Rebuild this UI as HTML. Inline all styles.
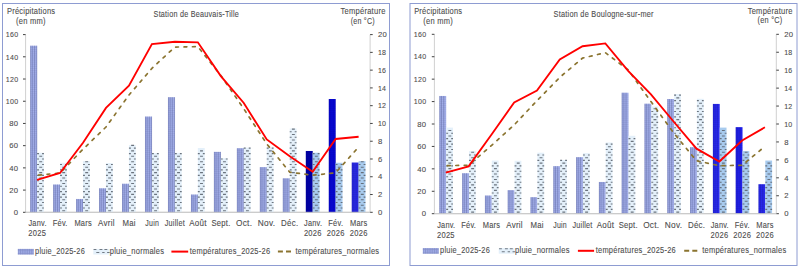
<!DOCTYPE html>
<html><head><meta charset="utf-8"><style>
html,body{margin:0;padding:0;background:#fff;width:800px;height:268px;overflow:hidden}
svg{display:block}
text{font-family:"Liberation Sans", sans-serif;letter-spacing:0.27px;stroke:#4d4d4d;stroke-width:0.1px;paint-order:stroke}
</style></head><body>
<svg width="800" height="268" viewBox="0 0 800 268">
<rect width="800" height="268" fill="#fff"/>
<rect x="2.5" y="3.5" width="387.0" height="262" fill="#fff" stroke="#8e9cd2" stroke-width="1"/>
<path d="M25.60 34.60V212.30M370.10 34.60V212.30M25.60 212.30H370.10" stroke="#d0d0d0" stroke-width="1" fill="none"/>
<path d="M23.00 212.30H25.60M23.00 190.09H25.60M23.00 167.88H25.60M23.00 145.66H25.60M23.00 123.45H25.60M23.00 101.24H25.60M23.00 79.02H25.60M23.00 56.81H25.60M23.00 34.60H25.60M370.10 212.30H372.70M370.10 194.53H372.70M370.10 176.76H372.70M370.10 158.99H372.70M370.10 141.22H372.70M370.10 123.45H372.70M370.10 105.68H372.70M370.10 87.91H372.70M370.10 70.14H372.70M370.10 52.37H372.70M370.10 34.60H372.70" stroke="#404040" stroke-width="1" fill="none"/>
<text transform="translate(18.30,215.00) scale(0.96,1)" text-anchor="end" font-size="8.0" fill="#4d4d4d">0</text>
<text transform="translate(18.30,192.79) scale(0.96,1)" text-anchor="end" font-size="8.0" fill="#4d4d4d">20</text>
<text transform="translate(18.30,170.57) scale(0.96,1)" text-anchor="end" font-size="8.0" fill="#4d4d4d">40</text>
<text transform="translate(18.30,148.36) scale(0.96,1)" text-anchor="end" font-size="8.0" fill="#4d4d4d">60</text>
<text transform="translate(18.30,126.15) scale(0.96,1)" text-anchor="end" font-size="8.0" fill="#4d4d4d">80</text>
<text transform="translate(18.30,103.94) scale(0.88,1)" text-anchor="end" font-size="8.0" fill="#4d4d4d">100</text>
<text transform="translate(18.30,81.72) scale(0.88,1)" text-anchor="end" font-size="8.0" fill="#4d4d4d">120</text>
<text transform="translate(18.30,59.51) scale(0.88,1)" text-anchor="end" font-size="8.0" fill="#4d4d4d">140</text>
<text transform="translate(18.30,37.30) scale(0.88,1)" text-anchor="end" font-size="8.0" fill="#4d4d4d">160</text>
<text transform="translate(377.90,215.00) scale(0.96,1)" text-anchor="start" font-size="8.0" fill="#4d4d4d">0</text>
<text transform="translate(377.90,197.23) scale(0.96,1)" text-anchor="start" font-size="8.0" fill="#4d4d4d">2</text>
<text transform="translate(377.90,179.46) scale(0.96,1)" text-anchor="start" font-size="8.0" fill="#4d4d4d">4</text>
<text transform="translate(377.90,161.69) scale(0.96,1)" text-anchor="start" font-size="8.0" fill="#4d4d4d">6</text>
<text transform="translate(377.90,143.92) scale(0.96,1)" text-anchor="start" font-size="8.0" fill="#4d4d4d">8</text>
<text transform="translate(377.90,126.15) scale(0.88,1)" text-anchor="start" font-size="8.0" fill="#4d4d4d">10</text>
<text transform="translate(377.90,108.38) scale(0.88,1)" text-anchor="start" font-size="8.0" fill="#4d4d4d">12</text>
<text transform="translate(377.90,90.61) scale(0.88,1)" text-anchor="start" font-size="8.0" fill="#4d4d4d">14</text>
<text transform="translate(377.90,72.84) scale(0.88,1)" text-anchor="start" font-size="8.0" fill="#4d4d4d">16</text>
<text transform="translate(377.90,55.07) scale(0.88,1)" text-anchor="start" font-size="8.0" fill="#4d4d4d">18</text>
<text transform="translate(377.90,37.30) scale(0.96,1)" text-anchor="start" font-size="8.0" fill="#4d4d4d">20</text>
<rect x="30.24" y="45.71" width="6.84" height="166.59" fill="#a2aee8"/>
<path d="M30.64 45.71V212.30M32.34 45.71V212.30M34.54 45.71V212.30M36.74 45.71V212.30" stroke="#59629c" stroke-width="0.9" opacity="0.47"/>
<path d="M30.24 211.30h6.84M30.24 209.20h6.84M30.24 207.10h6.84M30.24 205.00h6.84M30.24 202.90h6.84M30.24 200.80h6.84M30.24 198.70h6.84M30.24 196.60h6.84M30.24 194.50h6.84M30.24 192.40h6.84M30.24 190.30h6.84M30.24 188.20h6.84M30.24 186.10h6.84M30.24 184.00h6.84M30.24 181.90h6.84M30.24 179.80h6.84M30.24 177.70h6.84M30.24 175.60h6.84M30.24 173.50h6.84M30.24 171.40h6.84M30.24 169.30h6.84M30.24 167.20h6.84M30.24 165.10h6.84M30.24 163.00h6.84M30.24 160.90h6.84M30.24 158.80h6.84M30.24 156.70h6.84M30.24 154.60h6.84M30.24 152.50h6.84M30.24 150.40h6.84M30.24 148.30h6.84M30.24 146.20h6.84M30.24 144.10h6.84M30.24 142.00h6.84M30.24 139.90h6.84M30.24 137.80h6.84M30.24 135.70h6.84M30.24 133.60h6.84M30.24 131.50h6.84M30.24 129.40h6.84M30.24 127.30h6.84M30.24 125.20h6.84M30.24 123.10h6.84M30.24 121.00h6.84M30.24 118.90h6.84M30.24 116.80h6.84M30.24 114.70h6.84M30.24 112.60h6.84M30.24 110.50h6.84M30.24 108.40h6.84M30.24 106.30h6.84M30.24 104.20h6.84M30.24 102.10h6.84M30.24 100.00h6.84M30.24 97.90h6.84M30.24 95.80h6.84M30.24 93.70h6.84M30.24 91.60h6.84M30.24 89.50h6.84M30.24 87.40h6.84M30.24 85.30h6.84M30.24 83.20h6.84M30.24 81.10h6.84M30.24 79.00h6.84M30.24 76.90h6.84M30.24 74.80h6.84M30.24 72.70h6.84M30.24 70.60h6.84M30.24 68.50h6.84M30.24 66.40h6.84M30.24 64.30h6.84M30.24 62.20h6.84M30.24 60.10h6.84M30.24 58.00h6.84M30.24 55.90h6.84M30.24 53.80h6.84M30.24 51.70h6.84M30.24 49.60h6.84M30.24 47.50h6.84" stroke="#59629c" stroke-width="0.6" opacity="0.19"/>
<rect x="37.08" y="152.77" width="6.84" height="59.53" fill="#e4f0fa"/>
<path d="M39.28 210.70h2.9M37.08 207.98h1.9M42.08 207.98h1.84M39.28 205.26h2.9M37.08 202.54h1.9M42.08 202.54h1.84M39.28 199.82h2.9M37.08 197.10h1.9M42.08 197.10h1.84M39.28 194.38h2.9M37.08 191.66h1.9M42.08 191.66h1.84M39.28 188.94h2.9M37.08 186.22h1.9M42.08 186.22h1.84M39.28 183.50h2.9M37.08 180.78h1.9M42.08 180.78h1.84M39.28 178.06h2.9M37.08 175.34h1.9M42.08 175.34h1.84M39.28 172.62h2.9M37.08 169.90h1.9M42.08 169.90h1.84M39.28 167.18h2.9M37.08 164.46h1.9M42.08 164.46h1.84M39.28 161.74h2.9M37.08 159.02h1.9M42.08 159.02h1.84M39.28 156.30h2.9M37.08 153.58h1.9M42.08 153.58h1.84" stroke="#5e6670" stroke-width="1.1" opacity="0.9"/>
<rect x="53.21" y="184.53" width="6.84" height="27.77" fill="#a2aee8"/>
<path d="M53.61 184.53V212.30M55.31 184.53V212.30M57.51 184.53V212.30M59.71 184.53V212.30" stroke="#59629c" stroke-width="0.9" opacity="0.47"/>
<path d="M53.21 211.30h6.84M53.21 209.20h6.84M53.21 207.10h6.84M53.21 205.00h6.84M53.21 202.90h6.84M53.21 200.80h6.84M53.21 198.70h6.84M53.21 196.60h6.84M53.21 194.50h6.84M53.21 192.40h6.84M53.21 190.30h6.84M53.21 188.20h6.84M53.21 186.10h6.84" stroke="#59629c" stroke-width="0.6" opacity="0.19"/>
<rect x="60.05" y="162.77" width="6.84" height="49.53" fill="#e4f0fa"/>
<path d="M62.25 210.70h2.9M60.05 207.98h1.9M65.05 207.98h1.84M62.25 205.26h2.9M60.05 202.54h1.9M65.05 202.54h1.84M62.25 199.82h2.9M60.05 197.10h1.9M65.05 197.10h1.84M62.25 194.38h2.9M60.05 191.66h1.9M65.05 191.66h1.84M62.25 188.94h2.9M60.05 186.22h1.9M65.05 186.22h1.84M62.25 183.50h2.9M60.05 180.78h1.9M65.05 180.78h1.84M62.25 178.06h2.9M60.05 175.34h1.9M65.05 175.34h1.84M62.25 172.62h2.9M60.05 169.90h1.9M65.05 169.90h1.84M62.25 167.18h2.9M60.05 164.46h1.9M65.05 164.46h1.84" stroke="#5e6670" stroke-width="1.1" opacity="0.9"/>
<rect x="76.17" y="198.97" width="6.84" height="13.33" fill="#a2aee8"/>
<path d="M76.57 198.97V212.30M78.27 198.97V212.30M80.47 198.97V212.30M82.67 198.97V212.30" stroke="#59629c" stroke-width="0.9" opacity="0.47"/>
<path d="M76.17 211.30h6.84M76.17 209.20h6.84M76.17 207.10h6.84M76.17 205.00h6.84M76.17 202.90h6.84M76.17 200.80h6.84" stroke="#59629c" stroke-width="0.6" opacity="0.19"/>
<rect x="83.02" y="161.10" width="6.84" height="51.20" fill="#e4f0fa"/>
<path d="M85.22 210.70h2.9M83.02 207.98h1.9M88.02 207.98h1.84M85.22 205.26h2.9M83.02 202.54h1.9M88.02 202.54h1.84M85.22 199.82h2.9M83.02 197.10h1.9M88.02 197.10h1.84M85.22 194.38h2.9M83.02 191.66h1.9M88.02 191.66h1.84M85.22 188.94h2.9M83.02 186.22h1.9M88.02 186.22h1.84M85.22 183.50h2.9M83.02 180.78h1.9M88.02 180.78h1.84M85.22 178.06h2.9M83.02 175.34h1.9M88.02 175.34h1.84M85.22 172.62h2.9M83.02 169.90h1.9M88.02 169.90h1.84M85.22 167.18h2.9M83.02 164.46h1.9M88.02 164.46h1.84M85.22 161.74h2.9" stroke="#5e6670" stroke-width="1.1" opacity="0.9"/>
<rect x="99.14" y="188.31" width="6.84" height="23.99" fill="#a2aee8"/>
<path d="M99.54 188.31V212.30M101.24 188.31V212.30M103.44 188.31V212.30M105.64 188.31V212.30" stroke="#59629c" stroke-width="0.9" opacity="0.47"/>
<path d="M99.14 211.30h6.84M99.14 209.20h6.84M99.14 207.10h6.84M99.14 205.00h6.84M99.14 202.90h6.84M99.14 200.80h6.84M99.14 198.70h6.84M99.14 196.60h6.84M99.14 194.50h6.84M99.14 192.40h6.84M99.14 190.30h6.84" stroke="#59629c" stroke-width="0.6" opacity="0.19"/>
<rect x="105.98" y="163.10" width="6.84" height="49.20" fill="#e4f0fa"/>
<path d="M108.18 210.70h2.9M105.98 207.98h1.9M110.98 207.98h1.84M108.18 205.26h2.9M105.98 202.54h1.9M110.98 202.54h1.84M108.18 199.82h2.9M105.98 197.10h1.9M110.98 197.10h1.84M108.18 194.38h2.9M105.98 191.66h1.9M110.98 191.66h1.84M108.18 188.94h2.9M105.98 186.22h1.9M110.98 186.22h1.84M108.18 183.50h2.9M105.98 180.78h1.9M110.98 180.78h1.84M108.18 178.06h2.9M105.98 175.34h1.9M110.98 175.34h1.84M108.18 172.62h2.9M105.98 169.90h1.9M110.98 169.90h1.84M108.18 167.18h2.9M105.98 164.46h1.9M110.98 164.46h1.84" stroke="#5e6670" stroke-width="1.1" opacity="0.9"/>
<rect x="122.11" y="183.76" width="6.84" height="28.54" fill="#a2aee8"/>
<path d="M122.51 183.76V212.30M124.21 183.76V212.30M126.41 183.76V212.30M128.61 183.76V212.30" stroke="#59629c" stroke-width="0.9" opacity="0.47"/>
<path d="M122.11 211.30h6.84M122.11 209.20h6.84M122.11 207.10h6.84M122.11 205.00h6.84M122.11 202.90h6.84M122.11 200.80h6.84M122.11 198.70h6.84M122.11 196.60h6.84M122.11 194.50h6.84M122.11 192.40h6.84M122.11 190.30h6.84M122.11 188.20h6.84M122.11 186.10h6.84" stroke="#59629c" stroke-width="0.6" opacity="0.19"/>
<rect x="128.95" y="145.11" width="6.84" height="67.19" fill="#e4f0fa"/>
<path d="M131.15 210.70h2.9M128.95 207.98h1.9M133.95 207.98h1.84M131.15 205.26h2.9M128.95 202.54h1.9M133.95 202.54h1.84M131.15 199.82h2.9M128.95 197.10h1.9M133.95 197.10h1.84M131.15 194.38h2.9M128.95 191.66h1.9M133.95 191.66h1.84M131.15 188.94h2.9M128.95 186.22h1.9M133.95 186.22h1.84M131.15 183.50h2.9M128.95 180.78h1.9M133.95 180.78h1.84M131.15 178.06h2.9M128.95 175.34h1.9M133.95 175.34h1.84M131.15 172.62h2.9M128.95 169.90h1.9M133.95 169.90h1.84M131.15 167.18h2.9M128.95 164.46h1.9M133.95 164.46h1.84M131.15 161.74h2.9M128.95 159.02h1.9M133.95 159.02h1.84M131.15 156.30h2.9M128.95 153.58h1.9M133.95 153.58h1.84M131.15 150.86h2.9M128.95 148.14h1.9M133.95 148.14h1.84M131.15 145.42h2.9" stroke="#5e6670" stroke-width="1.1" opacity="0.9"/>
<rect x="145.07" y="116.56" width="6.84" height="95.74" fill="#a2aee8"/>
<path d="M145.47 116.56V212.30M147.17 116.56V212.30M149.37 116.56V212.30M151.57 116.56V212.30" stroke="#59629c" stroke-width="0.9" opacity="0.47"/>
<path d="M145.07 211.30h6.84M145.07 209.20h6.84M145.07 207.10h6.84M145.07 205.00h6.84M145.07 202.90h6.84M145.07 200.80h6.84M145.07 198.70h6.84M145.07 196.60h6.84M145.07 194.50h6.84M145.07 192.40h6.84M145.07 190.30h6.84M145.07 188.20h6.84M145.07 186.10h6.84M145.07 184.00h6.84M145.07 181.90h6.84M145.07 179.80h6.84M145.07 177.70h6.84M145.07 175.60h6.84M145.07 173.50h6.84M145.07 171.40h6.84M145.07 169.30h6.84M145.07 167.20h6.84M145.07 165.10h6.84M145.07 163.00h6.84M145.07 160.90h6.84M145.07 158.80h6.84M145.07 156.70h6.84M145.07 154.60h6.84M145.07 152.50h6.84M145.07 150.40h6.84M145.07 148.30h6.84M145.07 146.20h6.84M145.07 144.10h6.84M145.07 142.00h6.84M145.07 139.90h6.84M145.07 137.80h6.84M145.07 135.70h6.84M145.07 133.60h6.84M145.07 131.50h6.84M145.07 129.40h6.84M145.07 127.30h6.84M145.07 125.20h6.84M145.07 123.10h6.84M145.07 121.00h6.84M145.07 118.90h6.84" stroke="#59629c" stroke-width="0.6" opacity="0.19"/>
<rect x="151.92" y="153.21" width="6.84" height="59.09" fill="#e4f0fa"/>
<path d="M154.12 210.70h2.9M151.92 207.98h1.9M156.92 207.98h1.84M154.12 205.26h2.9M151.92 202.54h1.9M156.92 202.54h1.84M154.12 199.82h2.9M151.92 197.10h1.9M156.92 197.10h1.84M154.12 194.38h2.9M151.92 191.66h1.9M156.92 191.66h1.84M154.12 188.94h2.9M151.92 186.22h1.9M156.92 186.22h1.84M154.12 183.50h2.9M151.92 180.78h1.9M156.92 180.78h1.84M154.12 178.06h2.9M151.92 175.34h1.9M156.92 175.34h1.84M154.12 172.62h2.9M151.92 169.90h1.9M156.92 169.90h1.84M154.12 167.18h2.9M151.92 164.46h1.9M156.92 164.46h1.84M154.12 161.74h2.9M151.92 159.02h1.9M156.92 159.02h1.84M154.12 156.30h2.9M151.92 153.58h1.9M156.92 153.58h1.84" stroke="#5e6670" stroke-width="1.1" opacity="0.9"/>
<rect x="168.04" y="97.24" width="6.84" height="115.06" fill="#a2aee8"/>
<path d="M168.44 97.24V212.30M170.14 97.24V212.30M172.34 97.24V212.30M174.54 97.24V212.30" stroke="#59629c" stroke-width="0.9" opacity="0.47"/>
<path d="M168.04 211.30h6.84M168.04 209.20h6.84M168.04 207.10h6.84M168.04 205.00h6.84M168.04 202.90h6.84M168.04 200.80h6.84M168.04 198.70h6.84M168.04 196.60h6.84M168.04 194.50h6.84M168.04 192.40h6.84M168.04 190.30h6.84M168.04 188.20h6.84M168.04 186.10h6.84M168.04 184.00h6.84M168.04 181.90h6.84M168.04 179.80h6.84M168.04 177.70h6.84M168.04 175.60h6.84M168.04 173.50h6.84M168.04 171.40h6.84M168.04 169.30h6.84M168.04 167.20h6.84M168.04 165.10h6.84M168.04 163.00h6.84M168.04 160.90h6.84M168.04 158.80h6.84M168.04 156.70h6.84M168.04 154.60h6.84M168.04 152.50h6.84M168.04 150.40h6.84M168.04 148.30h6.84M168.04 146.20h6.84M168.04 144.10h6.84M168.04 142.00h6.84M168.04 139.90h6.84M168.04 137.80h6.84M168.04 135.70h6.84M168.04 133.60h6.84M168.04 131.50h6.84M168.04 129.40h6.84M168.04 127.30h6.84M168.04 125.20h6.84M168.04 123.10h6.84M168.04 121.00h6.84M168.04 118.90h6.84M168.04 116.80h6.84M168.04 114.70h6.84M168.04 112.60h6.84M168.04 110.50h6.84M168.04 108.40h6.84M168.04 106.30h6.84M168.04 104.20h6.84M168.04 102.10h6.84M168.04 100.00h6.84M168.04 97.90h6.84" stroke="#59629c" stroke-width="0.6" opacity="0.19"/>
<rect x="174.88" y="152.88" width="6.84" height="59.42" fill="#e4f0fa"/>
<path d="M177.08 210.70h2.9M174.88 207.98h1.9M179.88 207.98h1.84M177.08 205.26h2.9M174.88 202.54h1.9M179.88 202.54h1.84M177.08 199.82h2.9M174.88 197.10h1.9M179.88 197.10h1.84M177.08 194.38h2.9M174.88 191.66h1.9M179.88 191.66h1.84M177.08 188.94h2.9M174.88 186.22h1.9M179.88 186.22h1.84M177.08 183.50h2.9M174.88 180.78h1.9M179.88 180.78h1.84M177.08 178.06h2.9M174.88 175.34h1.9M179.88 175.34h1.84M177.08 172.62h2.9M174.88 169.90h1.9M179.88 169.90h1.84M177.08 167.18h2.9M174.88 164.46h1.9M179.88 164.46h1.84M177.08 161.74h2.9M174.88 159.02h1.9M179.88 159.02h1.84M177.08 156.30h2.9M174.88 153.58h1.9M179.88 153.58h1.84" stroke="#5e6670" stroke-width="1.1" opacity="0.9"/>
<rect x="191.01" y="194.53" width="6.84" height="17.77" fill="#a2aee8"/>
<path d="M191.41 194.53V212.30M193.11 194.53V212.30M195.31 194.53V212.30M197.51 194.53V212.30" stroke="#59629c" stroke-width="0.9" opacity="0.47"/>
<path d="M191.01 211.30h6.84M191.01 209.20h6.84M191.01 207.10h6.84M191.01 205.00h6.84M191.01 202.90h6.84M191.01 200.80h6.84M191.01 198.70h6.84M191.01 196.60h6.84" stroke="#59629c" stroke-width="0.6" opacity="0.19"/>
<rect x="197.85" y="147.99" width="6.84" height="64.31" fill="#e4f0fa"/>
<path d="M200.05 210.70h2.9M197.85 207.98h1.9M202.85 207.98h1.84M200.05 205.26h2.9M197.85 202.54h1.9M202.85 202.54h1.84M200.05 199.82h2.9M197.85 197.10h1.9M202.85 197.10h1.84M200.05 194.38h2.9M197.85 191.66h1.9M202.85 191.66h1.84M200.05 188.94h2.9M197.85 186.22h1.9M202.85 186.22h1.84M200.05 183.50h2.9M197.85 180.78h1.9M202.85 180.78h1.84M200.05 178.06h2.9M197.85 175.34h1.9M202.85 175.34h1.84M200.05 172.62h2.9M197.85 169.90h1.9M202.85 169.90h1.84M200.05 167.18h2.9M197.85 164.46h1.9M202.85 164.46h1.84M200.05 161.74h2.9M197.85 159.02h1.9M202.85 159.02h1.84M200.05 156.30h2.9M197.85 153.58h1.9M202.85 153.58h1.84M200.05 150.86h2.9" stroke="#5e6670" stroke-width="1.1" opacity="0.9"/>
<rect x="213.97" y="151.88" width="6.84" height="60.42" fill="#a2aee8"/>
<path d="M214.37 151.88V212.30M216.07 151.88V212.30M218.27 151.88V212.30M220.47 151.88V212.30" stroke="#59629c" stroke-width="0.9" opacity="0.47"/>
<path d="M213.97 211.30h6.84M213.97 209.20h6.84M213.97 207.10h6.84M213.97 205.00h6.84M213.97 202.90h6.84M213.97 200.80h6.84M213.97 198.70h6.84M213.97 196.60h6.84M213.97 194.50h6.84M213.97 192.40h6.84M213.97 190.30h6.84M213.97 188.20h6.84M213.97 186.10h6.84M213.97 184.00h6.84M213.97 181.90h6.84M213.97 179.80h6.84M213.97 177.70h6.84M213.97 175.60h6.84M213.97 173.50h6.84M213.97 171.40h6.84M213.97 169.30h6.84M213.97 167.20h6.84M213.97 165.10h6.84M213.97 163.00h6.84M213.97 160.90h6.84M213.97 158.80h6.84M213.97 156.70h6.84M213.97 154.60h6.84M213.97 152.50h6.84" stroke="#59629c" stroke-width="0.6" opacity="0.19"/>
<rect x="220.82" y="158.21" width="6.84" height="54.09" fill="#e4f0fa"/>
<path d="M223.02 210.70h2.9M220.82 207.98h1.9M225.82 207.98h1.84M223.02 205.26h2.9M220.82 202.54h1.9M225.82 202.54h1.84M223.02 199.82h2.9M220.82 197.10h1.9M225.82 197.10h1.84M223.02 194.38h2.9M220.82 191.66h1.9M225.82 191.66h1.84M223.02 188.94h2.9M220.82 186.22h1.9M225.82 186.22h1.84M223.02 183.50h2.9M220.82 180.78h1.9M225.82 180.78h1.84M223.02 178.06h2.9M220.82 175.34h1.9M225.82 175.34h1.84M223.02 172.62h2.9M220.82 169.90h1.9M225.82 169.90h1.84M223.02 167.18h2.9M220.82 164.46h1.9M225.82 164.46h1.84M223.02 161.74h2.9M220.82 159.02h1.9M225.82 159.02h1.84" stroke="#5e6670" stroke-width="1.1" opacity="0.9"/>
<rect x="236.94" y="148.22" width="6.84" height="64.08" fill="#a2aee8"/>
<path d="M237.34 148.22V212.30M239.04 148.22V212.30M241.24 148.22V212.30M243.44 148.22V212.30" stroke="#59629c" stroke-width="0.9" opacity="0.47"/>
<path d="M236.94 211.30h6.84M236.94 209.20h6.84M236.94 207.10h6.84M236.94 205.00h6.84M236.94 202.90h6.84M236.94 200.80h6.84M236.94 198.70h6.84M236.94 196.60h6.84M236.94 194.50h6.84M236.94 192.40h6.84M236.94 190.30h6.84M236.94 188.20h6.84M236.94 186.10h6.84M236.94 184.00h6.84M236.94 181.90h6.84M236.94 179.80h6.84M236.94 177.70h6.84M236.94 175.60h6.84M236.94 173.50h6.84M236.94 171.40h6.84M236.94 169.30h6.84M236.94 167.20h6.84M236.94 165.10h6.84M236.94 163.00h6.84M236.94 160.90h6.84M236.94 158.80h6.84M236.94 156.70h6.84M236.94 154.60h6.84M236.94 152.50h6.84M236.94 150.40h6.84" stroke="#59629c" stroke-width="0.6" opacity="0.19"/>
<rect x="243.78" y="147.66" width="6.84" height="64.64" fill="#e4f0fa"/>
<path d="M245.98 210.70h2.9M243.78 207.98h1.9M248.78 207.98h1.84M245.98 205.26h2.9M243.78 202.54h1.9M248.78 202.54h1.84M245.98 199.82h2.9M243.78 197.10h1.9M248.78 197.10h1.84M245.98 194.38h2.9M243.78 191.66h1.9M248.78 191.66h1.84M245.98 188.94h2.9M243.78 186.22h1.9M248.78 186.22h1.84M245.98 183.50h2.9M243.78 180.78h1.9M248.78 180.78h1.84M245.98 178.06h2.9M243.78 175.34h1.9M248.78 175.34h1.84M245.98 172.62h2.9M243.78 169.90h1.9M248.78 169.90h1.84M245.98 167.18h2.9M243.78 164.46h1.9M248.78 164.46h1.84M245.98 161.74h2.9M243.78 159.02h1.9M248.78 159.02h1.84M245.98 156.30h2.9M243.78 153.58h1.9M248.78 153.58h1.84M245.98 150.86h2.9M243.78 148.14h1.9M248.78 148.14h1.84" stroke="#5e6670" stroke-width="1.1" opacity="0.9"/>
<rect x="259.91" y="167.10" width="6.84" height="45.20" fill="#a2aee8"/>
<path d="M260.31 167.10V212.30M262.01 167.10V212.30M264.21 167.10V212.30M266.41 167.10V212.30" stroke="#59629c" stroke-width="0.9" opacity="0.47"/>
<path d="M259.91 211.30h6.84M259.91 209.20h6.84M259.91 207.10h6.84M259.91 205.00h6.84M259.91 202.90h6.84M259.91 200.80h6.84M259.91 198.70h6.84M259.91 196.60h6.84M259.91 194.50h6.84M259.91 192.40h6.84M259.91 190.30h6.84M259.91 188.20h6.84M259.91 186.10h6.84M259.91 184.00h6.84M259.91 181.90h6.84M259.91 179.80h6.84M259.91 177.70h6.84M259.91 175.60h6.84M259.91 173.50h6.84M259.91 171.40h6.84M259.91 169.30h6.84" stroke="#59629c" stroke-width="0.6" opacity="0.19"/>
<rect x="266.75" y="147.55" width="6.84" height="64.75" fill="#e4f0fa"/>
<path d="M268.95 210.70h2.9M266.75 207.98h1.9M271.75 207.98h1.84M268.95 205.26h2.9M266.75 202.54h1.9M271.75 202.54h1.84M268.95 199.82h2.9M266.75 197.10h1.9M271.75 197.10h1.84M268.95 194.38h2.9M266.75 191.66h1.9M271.75 191.66h1.84M268.95 188.94h2.9M266.75 186.22h1.9M271.75 186.22h1.84M268.95 183.50h2.9M266.75 180.78h1.9M271.75 180.78h1.84M268.95 178.06h2.9M266.75 175.34h1.9M271.75 175.34h1.84M268.95 172.62h2.9M266.75 169.90h1.9M271.75 169.90h1.84M268.95 167.18h2.9M266.75 164.46h1.9M271.75 164.46h1.84M268.95 161.74h2.9M266.75 159.02h1.9M271.75 159.02h1.84M268.95 156.30h2.9M266.75 153.58h1.9M271.75 153.58h1.84M268.95 150.86h2.9M266.75 148.14h1.9M271.75 148.14h1.84" stroke="#5e6670" stroke-width="1.1" opacity="0.9"/>
<rect x="282.87" y="178.31" width="6.84" height="33.99" fill="#a2aee8"/>
<path d="M283.27 178.31V212.30M284.97 178.31V212.30M287.17 178.31V212.30M289.37 178.31V212.30" stroke="#59629c" stroke-width="0.9" opacity="0.47"/>
<path d="M282.87 211.30h6.84M282.87 209.20h6.84M282.87 207.10h6.84M282.87 205.00h6.84M282.87 202.90h6.84M282.87 200.80h6.84M282.87 198.70h6.84M282.87 196.60h6.84M282.87 194.50h6.84M282.87 192.40h6.84M282.87 190.30h6.84M282.87 188.20h6.84M282.87 186.10h6.84M282.87 184.00h6.84M282.87 181.90h6.84M282.87 179.80h6.84" stroke="#59629c" stroke-width="0.6" opacity="0.19"/>
<rect x="289.72" y="128.45" width="6.84" height="83.85" fill="#e4f0fa"/>
<path d="M291.92 210.70h2.9M289.72 207.98h1.9M294.72 207.98h1.84M291.92 205.26h2.9M289.72 202.54h1.9M294.72 202.54h1.84M291.92 199.82h2.9M289.72 197.10h1.9M294.72 197.10h1.84M291.92 194.38h2.9M289.72 191.66h1.9M294.72 191.66h1.84M291.92 188.94h2.9M289.72 186.22h1.9M294.72 186.22h1.84M291.92 183.50h2.9M289.72 180.78h1.9M294.72 180.78h1.84M291.92 178.06h2.9M289.72 175.34h1.9M294.72 175.34h1.84M291.92 172.62h2.9M289.72 169.90h1.9M294.72 169.90h1.84M291.92 167.18h2.9M289.72 164.46h1.9M294.72 164.46h1.84M291.92 161.74h2.9M289.72 159.02h1.9M294.72 159.02h1.84M291.92 156.30h2.9M289.72 153.58h1.9M294.72 153.58h1.84M291.92 150.86h2.9M289.72 148.14h1.9M294.72 148.14h1.84M291.92 145.42h2.9M289.72 142.70h1.9M294.72 142.70h1.84M291.92 139.98h2.9M289.72 137.26h1.9M294.72 137.26h1.84M291.92 134.54h2.9M289.72 131.82h1.9M294.72 131.82h1.84M291.92 129.10h2.9" stroke="#5e6670" stroke-width="1.1" opacity="0.9"/>
<rect x="305.84" y="150.99" width="6.84" height="61.31" fill="#0000ae"/>
<path d="M306.24 150.99V212.30M307.94 150.99V212.30M310.14 150.99V212.30M312.34 150.99V212.30" stroke="#000040" stroke-width="0.9" opacity="0.20"/>
<path d="M305.84 211.30h6.84M305.84 209.20h6.84M305.84 207.10h6.84M305.84 205.00h6.84M305.84 202.90h6.84M305.84 200.80h6.84M305.84 198.70h6.84M305.84 196.60h6.84M305.84 194.50h6.84M305.84 192.40h6.84M305.84 190.30h6.84M305.84 188.20h6.84M305.84 186.10h6.84M305.84 184.00h6.84M305.84 181.90h6.84M305.84 179.80h6.84M305.84 177.70h6.84M305.84 175.60h6.84M305.84 173.50h6.84M305.84 171.40h6.84M305.84 169.30h6.84M305.84 167.20h6.84M305.84 165.10h6.84M305.84 163.00h6.84M305.84 160.90h6.84M305.84 158.80h6.84M305.84 156.70h6.84M305.84 154.60h6.84M305.84 152.50h6.84" stroke="#000040" stroke-width="0.6" opacity="0.08"/>
<rect x="312.68" y="152.77" width="6.84" height="59.53" fill="#a8cbee"/>
<path d="M314.88 210.70h2.9M312.68 207.98h1.9M317.68 207.98h1.84M314.88 205.26h2.9M312.68 202.54h1.9M317.68 202.54h1.84M314.88 199.82h2.9M312.68 197.10h1.9M317.68 197.10h1.84M314.88 194.38h2.9M312.68 191.66h1.9M317.68 191.66h1.84M314.88 188.94h2.9M312.68 186.22h1.9M317.68 186.22h1.84M314.88 183.50h2.9M312.68 180.78h1.9M317.68 180.78h1.84M314.88 178.06h2.9M312.68 175.34h1.9M317.68 175.34h1.84M314.88 172.62h2.9M312.68 169.90h1.9M317.68 169.90h1.84M314.88 167.18h2.9M312.68 164.46h1.9M317.68 164.46h1.84M314.88 161.74h2.9M312.68 159.02h1.9M317.68 159.02h1.84M314.88 156.30h2.9M312.68 153.58h1.9M317.68 153.58h1.84" stroke="#5e6670" stroke-width="1.1" opacity="0.9"/>
<rect x="328.81" y="99.02" width="6.84" height="113.28" fill="#0808dc"/>
<path d="M329.21 99.02V212.30M330.91 99.02V212.30M333.11 99.02V212.30M335.31 99.02V212.30" stroke="#000040" stroke-width="0.9" opacity="0.20"/>
<path d="M328.81 211.30h6.84M328.81 209.20h6.84M328.81 207.10h6.84M328.81 205.00h6.84M328.81 202.90h6.84M328.81 200.80h6.84M328.81 198.70h6.84M328.81 196.60h6.84M328.81 194.50h6.84M328.81 192.40h6.84M328.81 190.30h6.84M328.81 188.20h6.84M328.81 186.10h6.84M328.81 184.00h6.84M328.81 181.90h6.84M328.81 179.80h6.84M328.81 177.70h6.84M328.81 175.60h6.84M328.81 173.50h6.84M328.81 171.40h6.84M328.81 169.30h6.84M328.81 167.20h6.84M328.81 165.10h6.84M328.81 163.00h6.84M328.81 160.90h6.84M328.81 158.80h6.84M328.81 156.70h6.84M328.81 154.60h6.84M328.81 152.50h6.84M328.81 150.40h6.84M328.81 148.30h6.84M328.81 146.20h6.84M328.81 144.10h6.84M328.81 142.00h6.84M328.81 139.90h6.84M328.81 137.80h6.84M328.81 135.70h6.84M328.81 133.60h6.84M328.81 131.50h6.84M328.81 129.40h6.84M328.81 127.30h6.84M328.81 125.20h6.84M328.81 123.10h6.84M328.81 121.00h6.84M328.81 118.90h6.84M328.81 116.80h6.84M328.81 114.70h6.84M328.81 112.60h6.84M328.81 110.50h6.84M328.81 108.40h6.84M328.81 106.30h6.84M328.81 104.20h6.84M328.81 102.10h6.84M328.81 100.00h6.84" stroke="#000040" stroke-width="0.6" opacity="0.08"/>
<rect x="335.65" y="162.77" width="6.84" height="49.53" fill="#a8cbee"/>
<path d="M337.85 210.70h2.9M335.65 207.98h1.9M340.65 207.98h1.84M337.85 205.26h2.9M335.65 202.54h1.9M340.65 202.54h1.84M337.85 199.82h2.9M335.65 197.10h1.9M340.65 197.10h1.84M337.85 194.38h2.9M335.65 191.66h1.9M340.65 191.66h1.84M337.85 188.94h2.9M335.65 186.22h1.9M340.65 186.22h1.84M337.85 183.50h2.9M335.65 180.78h1.9M340.65 180.78h1.84M337.85 178.06h2.9M335.65 175.34h1.9M340.65 175.34h1.84M337.85 172.62h2.9M335.65 169.90h1.9M340.65 169.90h1.84M337.85 167.18h2.9M335.65 164.46h1.9M340.65 164.46h1.84" stroke="#5e6670" stroke-width="1.1" opacity="0.9"/>
<rect x="351.77" y="162.54" width="6.84" height="49.76" fill="#2c2cea"/>
<path d="M352.17 162.54V212.30M353.87 162.54V212.30M356.07 162.54V212.30M358.27 162.54V212.30" stroke="#000040" stroke-width="0.9" opacity="0.20"/>
<path d="M351.77 211.30h6.84M351.77 209.20h6.84M351.77 207.10h6.84M351.77 205.00h6.84M351.77 202.90h6.84M351.77 200.80h6.84M351.77 198.70h6.84M351.77 196.60h6.84M351.77 194.50h6.84M351.77 192.40h6.84M351.77 190.30h6.84M351.77 188.20h6.84M351.77 186.10h6.84M351.77 184.00h6.84M351.77 181.90h6.84M351.77 179.80h6.84M351.77 177.70h6.84M351.77 175.60h6.84M351.77 173.50h6.84M351.77 171.40h6.84M351.77 169.30h6.84M351.77 167.20h6.84M351.77 165.10h6.84" stroke="#000040" stroke-width="0.6" opacity="0.08"/>
<rect x="358.62" y="161.10" width="6.84" height="51.20" fill="#a8cbee"/>
<path d="M360.82 210.70h2.9M358.62 207.98h1.9M363.62 207.98h1.84M360.82 205.26h2.9M358.62 202.54h1.9M363.62 202.54h1.84M360.82 199.82h2.9M358.62 197.10h1.9M363.62 197.10h1.84M360.82 194.38h2.9M358.62 191.66h1.9M363.62 191.66h1.84M360.82 188.94h2.9M358.62 186.22h1.9M363.62 186.22h1.84M360.82 183.50h2.9M358.62 180.78h1.9M363.62 180.78h1.84M360.82 178.06h2.9M358.62 175.34h1.9M363.62 175.34h1.84M360.82 172.62h2.9M358.62 169.90h1.9M363.62 169.90h1.84M360.82 167.18h2.9M358.62 164.46h1.9M363.62 164.46h1.84M360.82 161.74h2.9" stroke="#5e6670" stroke-width="1.1" opacity="0.9"/>
<path d="M25.60 212.30H370.10" stroke="#c8c8c8" stroke-width="1"/>
<polyline points="37.08,175.25 60.05,173.03 83.02,149.22 105.98,127.00 128.95,95.02 151.92,68.36 174.88,47.04 197.85,46.68 220.82,75.47 243.78,108.79 266.75,143.89 289.72,172.14 312.68,175.25 335.65,172.76 358.62,147.00" fill="none" stroke="#8b7430" stroke-width="1.7" stroke-dasharray="2.8 5.6" stroke-dashoffset="-1.6" stroke-linecap="round"/>
<polyline points="37.08,179.96 60.05,172.94 83.02,142.73 105.98,107.90 128.95,85.78 151.92,44.11 174.88,41.71 197.85,42.33 220.82,76.09 243.78,103.01 266.75,139.44 289.72,156.32 312.68,171.78 335.65,139.00 358.62,136.78" fill="none" stroke="#ff0000" stroke-width="1.85" stroke-linejoin="miter"/>
<text transform="translate(28.42,225.80) scale(0.8987,1)" font-size="8.2" fill="#4d4d4d">Janv.</text>
<text transform="translate(28.29,236.00) scale(0.9252,1)" font-size="8.2" fill="#4d4d4d">2025</text>
<text transform="translate(52.73,225.80) scale(0.9076,1)" font-size="8.2" fill="#4d4d4d">Fév.</text>
<text transform="translate(74.40,225.80) scale(0.9103,1)" font-size="8.2" fill="#4d4d4d">Mars</text>
<text transform="translate(97.98,225.80) scale(0.9771,1)" font-size="8.2" fill="#4d4d4d">Avril</text>
<text transform="translate(122.46,225.80) scale(0.9505,1)" font-size="8.2" fill="#4d4d4d">Mai</text>
<text transform="translate(145.31,225.80) scale(0.8525,1)" font-size="8.2" fill="#4d4d4d">Juin</text>
<text transform="translate(164.77,225.80) scale(0.8800,1)" font-size="8.2" fill="#4d4d4d">Juillet</text>
<text transform="translate(189.15,225.80) scale(0.9759,1)" font-size="8.2" fill="#4d4d4d">Août</text>
<text transform="translate(211.38,225.80) scale(0.9351,1)" font-size="8.2" fill="#4d4d4d">Sept.</text>
<text transform="translate(236.03,225.80) scale(1.0084,1)" font-size="8.2" fill="#4d4d4d">Oct.</text>
<text transform="translate(257.72,225.80) scale(1.0159,1)" font-size="8.2" fill="#4d4d4d">Nov.</text>
<text transform="translate(281.11,225.80) scale(0.9649,1)" font-size="8.2" fill="#4d4d4d">Déc.</text>
<text transform="translate(304.02,225.80) scale(0.8987,1)" font-size="8.2" fill="#4d4d4d">Janv.</text>
<text transform="translate(303.89,236.00) scale(0.9252,1)" font-size="8.2" fill="#4d4d4d">2026</text>
<text transform="translate(328.33,225.80) scale(0.9076,1)" font-size="8.2" fill="#4d4d4d">Fév.</text>
<text transform="translate(326.85,236.00) scale(0.9252,1)" font-size="8.2" fill="#4d4d4d">2026</text>
<text transform="translate(350.00,225.80) scale(0.9103,1)" font-size="8.2" fill="#4d4d4d">Mars</text>
<text transform="translate(349.82,236.00) scale(0.9252,1)" font-size="8.2" fill="#4d4d4d">2026</text>
<text transform="translate(153.58,16.80) scale(0.8800,1)" font-size="8.2" fill="#4d4d4d">Station de Beauvais-Tille</text>
<text transform="translate(6.93,14.20) scale(0.9137,1)" font-size="8.2" fill="#4d4d4d">Précipitations</text>
<text transform="translate(16.06,23.80) scale(0.9184,1)" font-size="8.2" fill="#4d4d4d">(en mm)</text>
<text transform="translate(340.48,14.30) scale(0.9223,1)" font-size="8.2" fill="#4d4d4d">Température</text>
<text transform="translate(350.67,23.90) scale(0.8670,1)" font-size="8.2" fill="#4d4d4d">(en °C)</text>
<rect x="17.80" y="248.90" width="15.90" height="5.6" fill="#a2aee8"/>
<path d="M18.70 248.90v5.6M20.50 248.90v5.6M22.30 248.90v5.6M24.10 248.90v5.6M25.90 248.90v5.6M27.70 248.90v5.6M29.50 248.90v5.6M31.30 248.90v5.6M33.10 248.90v5.6M17.80 250.00h15.90M17.80 253.80h15.90" stroke="#59629c" stroke-width="0.8" opacity="0.4"/>
<text transform="translate(35.05,253.90) scale(0.9011,1)" font-size="8.2" fill="#4d4d4d">pluie_2025-26</text>
<rect x="93.30" y="248.90" width="16.20" height="5.6" fill="#e4f0fa"/>
<path d="M93.60 249.50h2.8M99.50 249.50h2.9M104.40 249.50h2.9M96.30 252.50h3M102.20 252.50h2.4M107.10 252.50h2.6" stroke="#5e6670" stroke-width="1.1" opacity="0.85"/>
<text transform="translate(109.74,253.90) scale(0.9182,1)" font-size="8.2" fill="#4d4d4d">pluie_normales</text>
<path d="M171.40 251.60H188.20" stroke="#ff0000" stroke-width="2"/>
<text transform="translate(189.70,253.90) scale(0.9130,1)" font-size="8.2" fill="#4d4d4d">températures_2025-26</text>
<path d="M277.90 251.60h5M286.00 251.60h5" stroke="#8b7430" stroke-width="2"/>
<text transform="translate(295.50,253.90) scale(0.9080,1)" font-size="8.2" fill="#4d4d4d">températures_normales</text>
<rect x="410.0" y="3.5" width="387.0" height="262" fill="#fff" stroke="#8e9cd2" stroke-width="1"/>
<path d="M434.40 34.30V213.70M776.30 34.30V213.70M434.40 213.70H776.30" stroke="#d0d0d0" stroke-width="1" fill="none"/>
<path d="M431.80 213.70H434.40M431.80 191.27H434.40M431.80 168.85H434.40M431.80 146.43H434.40M431.80 124.00H434.40M431.80 101.58H434.40M431.80 79.15H434.40M431.80 56.73H434.40M431.80 34.30H434.40M776.30 213.70H778.90M776.30 195.76H778.90M776.30 177.82H778.90M776.30 159.88H778.90M776.30 141.94H778.90M776.30 124.00H778.90M776.30 106.06H778.90M776.30 88.12H778.90M776.30 70.18H778.90M776.30 52.24H778.90M776.30 34.30H778.90" stroke="#404040" stroke-width="1" fill="none"/>
<text transform="translate(426.30,216.40) scale(0.96,1)" text-anchor="end" font-size="8.0" fill="#4d4d4d">0</text>
<text transform="translate(426.30,193.97) scale(0.96,1)" text-anchor="end" font-size="8.0" fill="#4d4d4d">20</text>
<text transform="translate(426.30,171.55) scale(0.96,1)" text-anchor="end" font-size="8.0" fill="#4d4d4d">40</text>
<text transform="translate(426.30,149.12) scale(0.96,1)" text-anchor="end" font-size="8.0" fill="#4d4d4d">60</text>
<text transform="translate(426.30,126.70) scale(0.96,1)" text-anchor="end" font-size="8.0" fill="#4d4d4d">80</text>
<text transform="translate(426.30,104.28) scale(0.88,1)" text-anchor="end" font-size="8.0" fill="#4d4d4d">100</text>
<text transform="translate(426.30,81.85) scale(0.88,1)" text-anchor="end" font-size="8.0" fill="#4d4d4d">120</text>
<text transform="translate(426.30,59.43) scale(0.88,1)" text-anchor="end" font-size="8.0" fill="#4d4d4d">140</text>
<text transform="translate(426.30,37.00) scale(0.88,1)" text-anchor="end" font-size="8.0" fill="#4d4d4d">160</text>
<text transform="translate(784.20,216.40) scale(0.96,1)" text-anchor="start" font-size="8.0" fill="#4d4d4d">0</text>
<text transform="translate(784.20,198.46) scale(0.96,1)" text-anchor="start" font-size="8.0" fill="#4d4d4d">2</text>
<text transform="translate(784.20,180.52) scale(0.96,1)" text-anchor="start" font-size="8.0" fill="#4d4d4d">4</text>
<text transform="translate(784.20,162.58) scale(0.96,1)" text-anchor="start" font-size="8.0" fill="#4d4d4d">6</text>
<text transform="translate(784.20,144.64) scale(0.96,1)" text-anchor="start" font-size="8.0" fill="#4d4d4d">8</text>
<text transform="translate(784.20,126.70) scale(0.88,1)" text-anchor="start" font-size="8.0" fill="#4d4d4d">10</text>
<text transform="translate(784.20,108.76) scale(0.88,1)" text-anchor="start" font-size="8.0" fill="#4d4d4d">12</text>
<text transform="translate(784.20,90.82) scale(0.88,1)" text-anchor="start" font-size="8.0" fill="#4d4d4d">14</text>
<text transform="translate(784.20,72.88) scale(0.88,1)" text-anchor="start" font-size="8.0" fill="#4d4d4d">16</text>
<text transform="translate(784.20,54.94) scale(0.88,1)" text-anchor="start" font-size="8.0" fill="#4d4d4d">18</text>
<text transform="translate(784.20,37.00) scale(0.96,1)" text-anchor="start" font-size="8.0" fill="#4d4d4d">20</text>
<rect x="439.40" y="95.97" width="6.79" height="117.73" fill="#a2aee8"/>
<path d="M439.80 95.97V213.70M441.50 95.97V213.70M443.70 95.97V213.70" stroke="#59629c" stroke-width="0.9" opacity="0.47"/>
<path d="M439.40 212.70h6.79M439.40 210.60h6.79M439.40 208.50h6.79M439.40 206.40h6.79M439.40 204.30h6.79M439.40 202.20h6.79M439.40 200.10h6.79M439.40 198.00h6.79M439.40 195.90h6.79M439.40 193.80h6.79M439.40 191.70h6.79M439.40 189.60h6.79M439.40 187.50h6.79M439.40 185.40h6.79M439.40 183.30h6.79M439.40 181.20h6.79M439.40 179.10h6.79M439.40 177.00h6.79M439.40 174.90h6.79M439.40 172.80h6.79M439.40 170.70h6.79M439.40 168.60h6.79M439.40 166.50h6.79M439.40 164.40h6.79M439.40 162.30h6.79M439.40 160.20h6.79M439.40 158.10h6.79M439.40 156.00h6.79M439.40 153.90h6.79M439.40 151.80h6.79M439.40 149.70h6.79M439.40 147.60h6.79M439.40 145.50h6.79M439.40 143.40h6.79M439.40 141.30h6.79M439.40 139.20h6.79M439.40 137.10h6.79M439.40 135.00h6.79M439.40 132.90h6.79M439.40 130.80h6.79M439.40 128.70h6.79M439.40 126.60h6.79M439.40 124.50h6.79M439.40 122.40h6.79M439.40 120.30h6.79M439.40 118.20h6.79M439.40 116.10h6.79M439.40 114.00h6.79M439.40 111.90h6.79M439.40 109.80h6.79M439.40 107.70h6.79M439.40 105.60h6.79M439.40 103.50h6.79M439.40 101.40h6.79M439.40 99.30h6.79M439.40 97.20h6.79" stroke="#59629c" stroke-width="0.6" opacity="0.19"/>
<rect x="446.20" y="127.59" width="6.79" height="86.11" fill="#e4f0fa"/>
<path d="M448.40 212.10h2.9M446.20 209.38h1.9M451.20 209.38h1.79M448.40 206.66h2.9M446.20 203.94h1.9M451.20 203.94h1.79M448.40 201.22h2.9M446.20 198.50h1.9M451.20 198.50h1.79M448.40 195.78h2.9M446.20 193.06h1.9M451.20 193.06h1.79M448.40 190.34h2.9M446.20 187.62h1.9M451.20 187.62h1.79M448.40 184.90h2.9M446.20 182.18h1.9M451.20 182.18h1.79M448.40 179.46h2.9M446.20 176.74h1.9M451.20 176.74h1.79M448.40 174.02h2.9M446.20 171.30h1.9M451.20 171.30h1.79M448.40 168.58h2.9M446.20 165.86h1.9M451.20 165.86h1.79M448.40 163.14h2.9M446.20 160.42h1.9M451.20 160.42h1.79M448.40 157.70h2.9M446.20 154.98h1.9M451.20 154.98h1.79M448.40 152.26h2.9M446.20 149.54h1.9M451.20 149.54h1.79M448.40 146.82h2.9M446.20 144.10h1.9M451.20 144.10h1.79M448.40 141.38h2.9M446.20 138.66h1.9M451.20 138.66h1.79M448.40 135.94h2.9M446.20 133.22h1.9M451.20 133.22h1.79M448.40 130.50h2.9" stroke="#5e6670" stroke-width="1.1" opacity="0.9"/>
<rect x="462.20" y="173.22" width="6.79" height="40.48" fill="#a2aee8"/>
<path d="M462.60 173.22V213.70M464.30 173.22V213.70M466.50 173.22V213.70" stroke="#59629c" stroke-width="0.9" opacity="0.47"/>
<path d="M462.20 212.70h6.79M462.20 210.60h6.79M462.20 208.50h6.79M462.20 206.40h6.79M462.20 204.30h6.79M462.20 202.20h6.79M462.20 200.10h6.79M462.20 198.00h6.79M462.20 195.90h6.79M462.20 193.80h6.79M462.20 191.70h6.79M462.20 189.60h6.79M462.20 187.50h6.79M462.20 185.40h6.79M462.20 183.30h6.79M462.20 181.20h6.79M462.20 179.10h6.79M462.20 177.00h6.79M462.20 174.90h6.79" stroke="#59629c" stroke-width="0.6" opacity="0.19"/>
<rect x="468.99" y="151.13" width="6.79" height="62.57" fill="#e4f0fa"/>
<path d="M471.19 212.10h2.9M468.99 209.38h1.9M473.99 209.38h1.79M471.19 206.66h2.9M468.99 203.94h1.9M473.99 203.94h1.79M471.19 201.22h2.9M468.99 198.50h1.9M473.99 198.50h1.79M471.19 195.78h2.9M468.99 193.06h1.9M473.99 193.06h1.79M471.19 190.34h2.9M468.99 187.62h1.9M473.99 187.62h1.79M471.19 184.90h2.9M468.99 182.18h1.9M473.99 182.18h1.79M471.19 179.46h2.9M468.99 176.74h1.9M473.99 176.74h1.79M471.19 174.02h2.9M468.99 171.30h1.9M473.99 171.30h1.79M471.19 168.58h2.9M468.99 165.86h1.9M473.99 165.86h1.79M471.19 163.14h2.9M468.99 160.42h1.9M473.99 160.42h1.79M471.19 157.70h2.9M468.99 154.98h1.9M473.99 154.98h1.79M471.19 152.26h2.9" stroke="#5e6670" stroke-width="1.1" opacity="0.9"/>
<rect x="484.99" y="195.54" width="6.79" height="18.16" fill="#a2aee8"/>
<path d="M485.39 195.54V213.70M487.09 195.54V213.70M489.29 195.54V213.70" stroke="#59629c" stroke-width="0.9" opacity="0.47"/>
<path d="M484.99 212.70h6.79M484.99 210.60h6.79M484.99 208.50h6.79M484.99 206.40h6.79M484.99 204.30h6.79M484.99 202.20h6.79M484.99 200.10h6.79M484.99 198.00h6.79" stroke="#59629c" stroke-width="0.6" opacity="0.19"/>
<rect x="491.78" y="160.55" width="6.79" height="53.15" fill="#e4f0fa"/>
<path d="M493.98 212.10h2.9M491.78 209.38h1.9M496.78 209.38h1.79M493.98 206.66h2.9M491.78 203.94h1.9M496.78 203.94h1.79M493.98 201.22h2.9M491.78 198.50h1.9M496.78 198.50h1.79M493.98 195.78h2.9M491.78 193.06h1.9M496.78 193.06h1.79M493.98 190.34h2.9M491.78 187.62h1.9M496.78 187.62h1.79M493.98 184.90h2.9M491.78 182.18h1.9M496.78 182.18h1.79M493.98 179.46h2.9M491.78 176.74h1.9M496.78 176.74h1.79M493.98 174.02h2.9M491.78 171.30h1.9M496.78 171.30h1.79M493.98 168.58h2.9M491.78 165.86h1.9M496.78 165.86h1.79M493.98 163.14h2.9" stroke="#5e6670" stroke-width="1.1" opacity="0.9"/>
<rect x="507.78" y="190.15" width="6.79" height="23.55" fill="#a2aee8"/>
<path d="M508.18 190.15V213.70M509.88 190.15V213.70M512.08 190.15V213.70" stroke="#59629c" stroke-width="0.9" opacity="0.47"/>
<path d="M507.78 212.70h6.79M507.78 210.60h6.79M507.78 208.50h6.79M507.78 206.40h6.79M507.78 204.30h6.79M507.78 202.20h6.79M507.78 200.10h6.79M507.78 198.00h6.79M507.78 195.90h6.79M507.78 193.80h6.79M507.78 191.70h6.79" stroke="#59629c" stroke-width="0.6" opacity="0.19"/>
<rect x="514.58" y="160.78" width="6.79" height="52.92" fill="#e4f0fa"/>
<path d="M516.78 212.10h2.9M514.58 209.38h1.9M519.58 209.38h1.79M516.78 206.66h2.9M514.58 203.94h1.9M519.58 203.94h1.79M516.78 201.22h2.9M514.58 198.50h1.9M519.58 198.50h1.79M516.78 195.78h2.9M514.58 193.06h1.9M519.58 193.06h1.79M516.78 190.34h2.9M514.58 187.62h1.9M519.58 187.62h1.79M516.78 184.90h2.9M514.58 182.18h1.9M519.58 182.18h1.79M516.78 179.46h2.9M514.58 176.74h1.9M519.58 176.74h1.79M516.78 174.02h2.9M514.58 171.30h1.9M519.58 171.30h1.79M516.78 168.58h2.9M514.58 165.86h1.9M519.58 165.86h1.79M516.78 163.14h2.9" stroke="#5e6670" stroke-width="1.1" opacity="0.9"/>
<rect x="530.58" y="197.22" width="6.79" height="16.48" fill="#a2aee8"/>
<path d="M530.98 197.22V213.70M532.68 197.22V213.70M534.88 197.22V213.70" stroke="#59629c" stroke-width="0.9" opacity="0.47"/>
<path d="M530.58 212.70h6.79M530.58 210.60h6.79M530.58 208.50h6.79M530.58 206.40h6.79M530.58 204.30h6.79M530.58 202.20h6.79M530.58 200.10h6.79M530.58 198.00h6.79" stroke="#59629c" stroke-width="0.6" opacity="0.19"/>
<rect x="537.37" y="152.70" width="6.79" height="61.00" fill="#e4f0fa"/>
<path d="M539.57 212.10h2.9M537.37 209.38h1.9M542.37 209.38h1.79M539.57 206.66h2.9M537.37 203.94h1.9M542.37 203.94h1.79M539.57 201.22h2.9M537.37 198.50h1.9M542.37 198.50h1.79M539.57 195.78h2.9M537.37 193.06h1.9M542.37 193.06h1.79M539.57 190.34h2.9M537.37 187.62h1.9M542.37 187.62h1.79M539.57 184.90h2.9M537.37 182.18h1.9M542.37 182.18h1.79M539.57 179.46h2.9M537.37 176.74h1.9M542.37 176.74h1.79M539.57 174.02h2.9M537.37 171.30h1.9M542.37 171.30h1.79M539.57 168.58h2.9M537.37 165.86h1.9M542.37 165.86h1.79M539.57 163.14h2.9M537.37 160.42h1.9M542.37 160.42h1.79M539.57 157.70h2.9M537.37 154.98h1.9M542.37 154.98h1.79" stroke="#5e6670" stroke-width="1.1" opacity="0.9"/>
<rect x="553.37" y="166.16" width="6.79" height="47.54" fill="#a2aee8"/>
<path d="M553.77 166.16V213.70M555.47 166.16V213.70M557.67 166.16V213.70" stroke="#59629c" stroke-width="0.9" opacity="0.47"/>
<path d="M553.37 212.70h6.79M553.37 210.60h6.79M553.37 208.50h6.79M553.37 206.40h6.79M553.37 204.30h6.79M553.37 202.20h6.79M553.37 200.10h6.79M553.37 198.00h6.79M553.37 195.90h6.79M553.37 193.80h6.79M553.37 191.70h6.79M553.37 189.60h6.79M553.37 187.50h6.79M553.37 185.40h6.79M553.37 183.30h6.79M553.37 181.20h6.79M553.37 179.10h6.79M553.37 177.00h6.79M553.37 174.90h6.79M553.37 172.80h6.79M553.37 170.70h6.79M553.37 168.60h6.79" stroke="#59629c" stroke-width="0.6" opacity="0.19"/>
<rect x="560.16" y="159.99" width="6.79" height="53.71" fill="#e4f0fa"/>
<path d="M562.36 212.10h2.9M560.16 209.38h1.9M565.16 209.38h1.79M562.36 206.66h2.9M560.16 203.94h1.9M565.16 203.94h1.79M562.36 201.22h2.9M560.16 198.50h1.9M565.16 198.50h1.79M562.36 195.78h2.9M560.16 193.06h1.9M565.16 193.06h1.79M562.36 190.34h2.9M560.16 187.62h1.9M565.16 187.62h1.79M562.36 184.90h2.9M560.16 182.18h1.9M565.16 182.18h1.79M562.36 179.46h2.9M560.16 176.74h1.9M565.16 176.74h1.79M562.36 174.02h2.9M560.16 171.30h1.9M565.16 171.30h1.79M562.36 168.58h2.9M560.16 165.86h1.9M565.16 165.86h1.79M562.36 163.14h2.9M560.16 160.42h1.9M565.16 160.42h1.79" stroke="#5e6670" stroke-width="1.1" opacity="0.9"/>
<rect x="576.16" y="157.19" width="6.79" height="56.51" fill="#a2aee8"/>
<path d="M576.56 157.19V213.70M578.26 157.19V213.70M580.46 157.19V213.70" stroke="#59629c" stroke-width="0.9" opacity="0.47"/>
<path d="M576.16 212.70h6.79M576.16 210.60h6.79M576.16 208.50h6.79M576.16 206.40h6.79M576.16 204.30h6.79M576.16 202.20h6.79M576.16 200.10h6.79M576.16 198.00h6.79M576.16 195.90h6.79M576.16 193.80h6.79M576.16 191.70h6.79M576.16 189.60h6.79M576.16 187.50h6.79M576.16 185.40h6.79M576.16 183.30h6.79M576.16 181.20h6.79M576.16 179.10h6.79M576.16 177.00h6.79M576.16 174.90h6.79M576.16 172.80h6.79M576.16 170.70h6.79M576.16 168.60h6.79M576.16 166.50h6.79M576.16 164.40h6.79M576.16 162.30h6.79M576.16 160.20h6.79M576.16 158.10h6.79" stroke="#59629c" stroke-width="0.6" opacity="0.19"/>
<rect x="582.96" y="153.15" width="6.79" height="60.55" fill="#e4f0fa"/>
<path d="M585.16 212.10h2.9M582.96 209.38h1.9M587.96 209.38h1.79M585.16 206.66h2.9M582.96 203.94h1.9M587.96 203.94h1.79M585.16 201.22h2.9M582.96 198.50h1.9M587.96 198.50h1.79M585.16 195.78h2.9M582.96 193.06h1.9M587.96 193.06h1.79M585.16 190.34h2.9M582.96 187.62h1.9M587.96 187.62h1.79M585.16 184.90h2.9M582.96 182.18h1.9M587.96 182.18h1.79M585.16 179.46h2.9M582.96 176.74h1.9M587.96 176.74h1.79M585.16 174.02h2.9M582.96 171.30h1.9M587.96 171.30h1.79M585.16 168.58h2.9M582.96 165.86h1.9M587.96 165.86h1.79M585.16 163.14h2.9M582.96 160.42h1.9M587.96 160.42h1.79M585.16 157.70h2.9M582.96 154.98h1.9M587.96 154.98h1.79" stroke="#5e6670" stroke-width="1.1" opacity="0.9"/>
<rect x="598.96" y="181.97" width="6.79" height="31.73" fill="#a2aee8"/>
<path d="M599.36 181.97V213.70M601.06 181.97V213.70M603.26 181.97V213.70" stroke="#59629c" stroke-width="0.9" opacity="0.47"/>
<path d="M598.96 212.70h6.79M598.96 210.60h6.79M598.96 208.50h6.79M598.96 206.40h6.79M598.96 204.30h6.79M598.96 202.20h6.79M598.96 200.10h6.79M598.96 198.00h6.79M598.96 195.90h6.79M598.96 193.80h6.79M598.96 191.70h6.79M598.96 189.60h6.79M598.96 187.50h6.79M598.96 185.40h6.79M598.96 183.30h6.79" stroke="#59629c" stroke-width="0.6" opacity="0.19"/>
<rect x="605.75" y="142.50" width="6.79" height="71.20" fill="#e4f0fa"/>
<path d="M607.95 212.10h2.9M605.75 209.38h1.9M610.75 209.38h1.79M607.95 206.66h2.9M605.75 203.94h1.9M610.75 203.94h1.79M607.95 201.22h2.9M605.75 198.50h1.9M610.75 198.50h1.79M607.95 195.78h2.9M605.75 193.06h1.9M610.75 193.06h1.79M607.95 190.34h2.9M605.75 187.62h1.9M610.75 187.62h1.79M607.95 184.90h2.9M605.75 182.18h1.9M610.75 182.18h1.79M607.95 179.46h2.9M605.75 176.74h1.9M610.75 176.74h1.79M607.95 174.02h2.9M605.75 171.30h1.9M610.75 171.30h1.79M607.95 168.58h2.9M605.75 165.86h1.9M610.75 165.86h1.79M607.95 163.14h2.9M605.75 160.42h1.9M610.75 160.42h1.79M607.95 157.70h2.9M605.75 154.98h1.9M610.75 154.98h1.79M607.95 152.26h2.9M605.75 149.54h1.9M610.75 149.54h1.79M607.95 146.82h2.9M605.75 144.10h1.9M610.75 144.10h1.79" stroke="#5e6670" stroke-width="1.1" opacity="0.9"/>
<rect x="621.75" y="92.72" width="6.79" height="120.98" fill="#a2aee8"/>
<path d="M622.15 92.72V213.70M623.85 92.72V213.70M626.05 92.72V213.70" stroke="#59629c" stroke-width="0.9" opacity="0.47"/>
<path d="M621.75 212.70h6.79M621.75 210.60h6.79M621.75 208.50h6.79M621.75 206.40h6.79M621.75 204.30h6.79M621.75 202.20h6.79M621.75 200.10h6.79M621.75 198.00h6.79M621.75 195.90h6.79M621.75 193.80h6.79M621.75 191.70h6.79M621.75 189.60h6.79M621.75 187.50h6.79M621.75 185.40h6.79M621.75 183.30h6.79M621.75 181.20h6.79M621.75 179.10h6.79M621.75 177.00h6.79M621.75 174.90h6.79M621.75 172.80h6.79M621.75 170.70h6.79M621.75 168.60h6.79M621.75 166.50h6.79M621.75 164.40h6.79M621.75 162.30h6.79M621.75 160.20h6.79M621.75 158.10h6.79M621.75 156.00h6.79M621.75 153.90h6.79M621.75 151.80h6.79M621.75 149.70h6.79M621.75 147.60h6.79M621.75 145.50h6.79M621.75 143.40h6.79M621.75 141.30h6.79M621.75 139.20h6.79M621.75 137.10h6.79M621.75 135.00h6.79M621.75 132.90h6.79M621.75 130.80h6.79M621.75 128.70h6.79M621.75 126.60h6.79M621.75 124.50h6.79M621.75 122.40h6.79M621.75 120.30h6.79M621.75 118.20h6.79M621.75 116.10h6.79M621.75 114.00h6.79M621.75 111.90h6.79M621.75 109.80h6.79M621.75 107.70h6.79M621.75 105.60h6.79M621.75 103.50h6.79M621.75 101.40h6.79M621.75 99.30h6.79M621.75 97.20h6.79M621.75 95.10h6.79" stroke="#59629c" stroke-width="0.6" opacity="0.19"/>
<rect x="628.54" y="135.77" width="6.79" height="77.93" fill="#e4f0fa"/>
<path d="M630.74 212.10h2.9M628.54 209.38h1.9M633.54 209.38h1.79M630.74 206.66h2.9M628.54 203.94h1.9M633.54 203.94h1.79M630.74 201.22h2.9M628.54 198.50h1.9M633.54 198.50h1.79M630.74 195.78h2.9M628.54 193.06h1.9M633.54 193.06h1.79M630.74 190.34h2.9M628.54 187.62h1.9M633.54 187.62h1.79M630.74 184.90h2.9M628.54 182.18h1.9M633.54 182.18h1.79M630.74 179.46h2.9M628.54 176.74h1.9M633.54 176.74h1.79M630.74 174.02h2.9M628.54 171.30h1.9M633.54 171.30h1.79M630.74 168.58h2.9M628.54 165.86h1.9M633.54 165.86h1.79M630.74 163.14h2.9M628.54 160.42h1.9M633.54 160.42h1.79M630.74 157.70h2.9M628.54 154.98h1.9M633.54 154.98h1.79M630.74 152.26h2.9M628.54 149.54h1.9M633.54 149.54h1.79M630.74 146.82h2.9M628.54 144.10h1.9M633.54 144.10h1.79M630.74 141.38h2.9M628.54 138.66h1.9M633.54 138.66h1.79" stroke="#5e6670" stroke-width="1.1" opacity="0.9"/>
<rect x="644.54" y="103.71" width="6.79" height="109.99" fill="#a2aee8"/>
<path d="M644.94 103.71V213.70M646.64 103.71V213.70M648.84 103.71V213.70" stroke="#59629c" stroke-width="0.9" opacity="0.47"/>
<path d="M644.54 212.70h6.79M644.54 210.60h6.79M644.54 208.50h6.79M644.54 206.40h6.79M644.54 204.30h6.79M644.54 202.20h6.79M644.54 200.10h6.79M644.54 198.00h6.79M644.54 195.90h6.79M644.54 193.80h6.79M644.54 191.70h6.79M644.54 189.60h6.79M644.54 187.50h6.79M644.54 185.40h6.79M644.54 183.30h6.79M644.54 181.20h6.79M644.54 179.10h6.79M644.54 177.00h6.79M644.54 174.90h6.79M644.54 172.80h6.79M644.54 170.70h6.79M644.54 168.60h6.79M644.54 166.50h6.79M644.54 164.40h6.79M644.54 162.30h6.79M644.54 160.20h6.79M644.54 158.10h6.79M644.54 156.00h6.79M644.54 153.90h6.79M644.54 151.80h6.79M644.54 149.70h6.79M644.54 147.60h6.79M644.54 145.50h6.79M644.54 143.40h6.79M644.54 141.30h6.79M644.54 139.20h6.79M644.54 137.10h6.79M644.54 135.00h6.79M644.54 132.90h6.79M644.54 130.80h6.79M644.54 128.70h6.79M644.54 126.60h6.79M644.54 124.50h6.79M644.54 122.40h6.79M644.54 120.30h6.79M644.54 118.20h6.79M644.54 116.10h6.79M644.54 114.00h6.79M644.54 111.90h6.79M644.54 109.80h6.79M644.54 107.70h6.79M644.54 105.60h6.79" stroke="#59629c" stroke-width="0.6" opacity="0.19"/>
<rect x="651.34" y="106.51" width="6.79" height="107.19" fill="#e4f0fa"/>
<path d="M653.54 212.10h2.9M651.34 209.38h1.9M656.34 209.38h1.79M653.54 206.66h2.9M651.34 203.94h1.9M656.34 203.94h1.79M653.54 201.22h2.9M651.34 198.50h1.9M656.34 198.50h1.79M653.54 195.78h2.9M651.34 193.06h1.9M656.34 193.06h1.79M653.54 190.34h2.9M651.34 187.62h1.9M656.34 187.62h1.79M653.54 184.90h2.9M651.34 182.18h1.9M656.34 182.18h1.79M653.54 179.46h2.9M651.34 176.74h1.9M656.34 176.74h1.79M653.54 174.02h2.9M651.34 171.30h1.9M656.34 171.30h1.79M653.54 168.58h2.9M651.34 165.86h1.9M656.34 165.86h1.79M653.54 163.14h2.9M651.34 160.42h1.9M656.34 160.42h1.79M653.54 157.70h2.9M651.34 154.98h1.9M656.34 154.98h1.79M653.54 152.26h2.9M651.34 149.54h1.9M656.34 149.54h1.79M653.54 146.82h2.9M651.34 144.10h1.9M656.34 144.10h1.79M653.54 141.38h2.9M651.34 138.66h1.9M656.34 138.66h1.79M653.54 135.94h2.9M651.34 133.22h1.9M656.34 133.22h1.79M653.54 130.50h2.9M651.34 127.78h1.9M656.34 127.78h1.79M653.54 125.06h2.9M651.34 122.34h1.9M656.34 122.34h1.79M653.54 119.62h2.9M651.34 116.90h1.9M656.34 116.90h1.79M653.54 114.18h2.9M651.34 111.46h1.9M656.34 111.46h1.79M653.54 108.74h2.9" stroke="#5e6670" stroke-width="1.1" opacity="0.9"/>
<rect x="667.34" y="99.00" width="6.79" height="114.70" fill="#a2aee8"/>
<path d="M667.74 99.00V213.70M669.44 99.00V213.70M671.64 99.00V213.70" stroke="#59629c" stroke-width="0.9" opacity="0.47"/>
<path d="M667.34 212.70h6.79M667.34 210.60h6.79M667.34 208.50h6.79M667.34 206.40h6.79M667.34 204.30h6.79M667.34 202.20h6.79M667.34 200.10h6.79M667.34 198.00h6.79M667.34 195.90h6.79M667.34 193.80h6.79M667.34 191.70h6.79M667.34 189.60h6.79M667.34 187.50h6.79M667.34 185.40h6.79M667.34 183.30h6.79M667.34 181.20h6.79M667.34 179.10h6.79M667.34 177.00h6.79M667.34 174.90h6.79M667.34 172.80h6.79M667.34 170.70h6.79M667.34 168.60h6.79M667.34 166.50h6.79M667.34 164.40h6.79M667.34 162.30h6.79M667.34 160.20h6.79M667.34 158.10h6.79M667.34 156.00h6.79M667.34 153.90h6.79M667.34 151.80h6.79M667.34 149.70h6.79M667.34 147.60h6.79M667.34 145.50h6.79M667.34 143.40h6.79M667.34 141.30h6.79M667.34 139.20h6.79M667.34 137.10h6.79M667.34 135.00h6.79M667.34 132.90h6.79M667.34 130.80h6.79M667.34 128.70h6.79M667.34 126.60h6.79M667.34 124.50h6.79M667.34 122.40h6.79M667.34 120.30h6.79M667.34 118.20h6.79M667.34 116.10h6.79M667.34 114.00h6.79M667.34 111.90h6.79M667.34 109.80h6.79M667.34 107.70h6.79M667.34 105.60h6.79M667.34 103.50h6.79M667.34 101.40h6.79" stroke="#59629c" stroke-width="0.6" opacity="0.19"/>
<rect x="674.13" y="94.06" width="6.79" height="119.64" fill="#e4f0fa"/>
<path d="M676.33 212.10h2.9M674.13 209.38h1.9M679.13 209.38h1.79M676.33 206.66h2.9M674.13 203.94h1.9M679.13 203.94h1.79M676.33 201.22h2.9M674.13 198.50h1.9M679.13 198.50h1.79M676.33 195.78h2.9M674.13 193.06h1.9M679.13 193.06h1.79M676.33 190.34h2.9M674.13 187.62h1.9M679.13 187.62h1.79M676.33 184.90h2.9M674.13 182.18h1.9M679.13 182.18h1.79M676.33 179.46h2.9M674.13 176.74h1.9M679.13 176.74h1.79M676.33 174.02h2.9M674.13 171.30h1.9M679.13 171.30h1.79M676.33 168.58h2.9M674.13 165.86h1.9M679.13 165.86h1.79M676.33 163.14h2.9M674.13 160.42h1.9M679.13 160.42h1.79M676.33 157.70h2.9M674.13 154.98h1.9M679.13 154.98h1.79M676.33 152.26h2.9M674.13 149.54h1.9M679.13 149.54h1.79M676.33 146.82h2.9M674.13 144.10h1.9M679.13 144.10h1.79M676.33 141.38h2.9M674.13 138.66h1.9M679.13 138.66h1.79M676.33 135.94h2.9M674.13 133.22h1.9M679.13 133.22h1.79M676.33 130.50h2.9M674.13 127.78h1.9M679.13 127.78h1.79M676.33 125.06h2.9M674.13 122.34h1.9M679.13 122.34h1.79M676.33 119.62h2.9M674.13 116.90h1.9M679.13 116.90h1.79M676.33 114.18h2.9M674.13 111.46h1.9M679.13 111.46h1.79M676.33 108.74h2.9M674.13 106.02h1.9M679.13 106.02h1.79M676.33 103.30h2.9M674.13 100.58h1.9M679.13 100.58h1.79M676.33 97.86h2.9M674.13 95.14h1.9M679.13 95.14h1.79" stroke="#5e6670" stroke-width="1.1" opacity="0.9"/>
<rect x="690.13" y="147.21" width="6.79" height="66.49" fill="#a2aee8"/>
<path d="M690.53 147.21V213.70M692.23 147.21V213.70M694.43 147.21V213.70" stroke="#59629c" stroke-width="0.9" opacity="0.47"/>
<path d="M690.13 212.70h6.79M690.13 210.60h6.79M690.13 208.50h6.79M690.13 206.40h6.79M690.13 204.30h6.79M690.13 202.20h6.79M690.13 200.10h6.79M690.13 198.00h6.79M690.13 195.90h6.79M690.13 193.80h6.79M690.13 191.70h6.79M690.13 189.60h6.79M690.13 187.50h6.79M690.13 185.40h6.79M690.13 183.30h6.79M690.13 181.20h6.79M690.13 179.10h6.79M690.13 177.00h6.79M690.13 174.90h6.79M690.13 172.80h6.79M690.13 170.70h6.79M690.13 168.60h6.79M690.13 166.50h6.79M690.13 164.40h6.79M690.13 162.30h6.79M690.13 160.20h6.79M690.13 158.10h6.79M690.13 156.00h6.79M690.13 153.90h6.79M690.13 151.80h6.79M690.13 149.70h6.79" stroke="#59629c" stroke-width="0.6" opacity="0.19"/>
<rect x="696.92" y="98.77" width="6.79" height="114.93" fill="#e4f0fa"/>
<path d="M699.12 212.10h2.9M696.92 209.38h1.9M701.92 209.38h1.79M699.12 206.66h2.9M696.92 203.94h1.9M701.92 203.94h1.79M699.12 201.22h2.9M696.92 198.50h1.9M701.92 198.50h1.79M699.12 195.78h2.9M696.92 193.06h1.9M701.92 193.06h1.79M699.12 190.34h2.9M696.92 187.62h1.9M701.92 187.62h1.79M699.12 184.90h2.9M696.92 182.18h1.9M701.92 182.18h1.79M699.12 179.46h2.9M696.92 176.74h1.9M701.92 176.74h1.79M699.12 174.02h2.9M696.92 171.30h1.9M701.92 171.30h1.79M699.12 168.58h2.9M696.92 165.86h1.9M701.92 165.86h1.79M699.12 163.14h2.9M696.92 160.42h1.9M701.92 160.42h1.79M699.12 157.70h2.9M696.92 154.98h1.9M701.92 154.98h1.79M699.12 152.26h2.9M696.92 149.54h1.9M701.92 149.54h1.79M699.12 146.82h2.9M696.92 144.10h1.9M701.92 144.10h1.79M699.12 141.38h2.9M696.92 138.66h1.9M701.92 138.66h1.79M699.12 135.94h2.9M696.92 133.22h1.9M701.92 133.22h1.79M699.12 130.50h2.9M696.92 127.78h1.9M701.92 127.78h1.79M699.12 125.06h2.9M696.92 122.34h1.9M701.92 122.34h1.79M699.12 119.62h2.9M696.92 116.90h1.9M701.92 116.90h1.79M699.12 114.18h2.9M696.92 111.46h1.9M701.92 111.46h1.79M699.12 108.74h2.9M696.92 106.02h1.9M701.92 106.02h1.79M699.12 103.30h2.9M696.92 100.58h1.9M701.92 100.58h1.79" stroke="#5e6670" stroke-width="1.1" opacity="0.9"/>
<rect x="712.92" y="103.93" width="6.79" height="109.77" fill="#2a2af0"/>
<path d="M713.32 103.93V213.70M715.02 103.93V213.70M717.22 103.93V213.70" stroke="#000040" stroke-width="0.9" opacity="0.20"/>
<path d="M712.92 212.70h6.79M712.92 210.60h6.79M712.92 208.50h6.79M712.92 206.40h6.79M712.92 204.30h6.79M712.92 202.20h6.79M712.92 200.10h6.79M712.92 198.00h6.79M712.92 195.90h6.79M712.92 193.80h6.79M712.92 191.70h6.79M712.92 189.60h6.79M712.92 187.50h6.79M712.92 185.40h6.79M712.92 183.30h6.79M712.92 181.20h6.79M712.92 179.10h6.79M712.92 177.00h6.79M712.92 174.90h6.79M712.92 172.80h6.79M712.92 170.70h6.79M712.92 168.60h6.79M712.92 166.50h6.79M712.92 164.40h6.79M712.92 162.30h6.79M712.92 160.20h6.79M712.92 158.10h6.79M712.92 156.00h6.79M712.92 153.90h6.79M712.92 151.80h6.79M712.92 149.70h6.79M712.92 147.60h6.79M712.92 145.50h6.79M712.92 143.40h6.79M712.92 141.30h6.79M712.92 139.20h6.79M712.92 137.10h6.79M712.92 135.00h6.79M712.92 132.90h6.79M712.92 130.80h6.79M712.92 128.70h6.79M712.92 126.60h6.79M712.92 124.50h6.79M712.92 122.40h6.79M712.92 120.30h6.79M712.92 118.20h6.79M712.92 116.10h6.79M712.92 114.00h6.79M712.92 111.90h6.79M712.92 109.80h6.79M712.92 107.70h6.79M712.92 105.60h6.79" stroke="#000040" stroke-width="0.6" opacity="0.08"/>
<rect x="719.72" y="127.59" width="6.79" height="86.11" fill="#a8cbee"/>
<path d="M721.92 212.10h2.9M719.72 209.38h1.9M724.72 209.38h1.79M721.92 206.66h2.9M719.72 203.94h1.9M724.72 203.94h1.79M721.92 201.22h2.9M719.72 198.50h1.9M724.72 198.50h1.79M721.92 195.78h2.9M719.72 193.06h1.9M724.72 193.06h1.79M721.92 190.34h2.9M719.72 187.62h1.9M724.72 187.62h1.79M721.92 184.90h2.9M719.72 182.18h1.9M724.72 182.18h1.79M721.92 179.46h2.9M719.72 176.74h1.9M724.72 176.74h1.79M721.92 174.02h2.9M719.72 171.30h1.9M724.72 171.30h1.79M721.92 168.58h2.9M719.72 165.86h1.9M724.72 165.86h1.79M721.92 163.14h2.9M719.72 160.42h1.9M724.72 160.42h1.79M721.92 157.70h2.9M719.72 154.98h1.9M724.72 154.98h1.79M721.92 152.26h2.9M719.72 149.54h1.9M724.72 149.54h1.79M721.92 146.82h2.9M719.72 144.10h1.9M724.72 144.10h1.79M721.92 141.38h2.9M719.72 138.66h1.9M724.72 138.66h1.79M721.92 135.94h2.9M719.72 133.22h1.9M724.72 133.22h1.79M721.92 130.50h2.9" stroke="#5e6670" stroke-width="1.1" opacity="0.9"/>
<rect x="735.72" y="127.14" width="6.79" height="86.56" fill="#2222ee"/>
<path d="M736.12 127.14V213.70M737.82 127.14V213.70M740.02 127.14V213.70" stroke="#000040" stroke-width="0.9" opacity="0.20"/>
<path d="M735.72 212.70h6.79M735.72 210.60h6.79M735.72 208.50h6.79M735.72 206.40h6.79M735.72 204.30h6.79M735.72 202.20h6.79M735.72 200.10h6.79M735.72 198.00h6.79M735.72 195.90h6.79M735.72 193.80h6.79M735.72 191.70h6.79M735.72 189.60h6.79M735.72 187.50h6.79M735.72 185.40h6.79M735.72 183.30h6.79M735.72 181.20h6.79M735.72 179.10h6.79M735.72 177.00h6.79M735.72 174.90h6.79M735.72 172.80h6.79M735.72 170.70h6.79M735.72 168.60h6.79M735.72 166.50h6.79M735.72 164.40h6.79M735.72 162.30h6.79M735.72 160.20h6.79M735.72 158.10h6.79M735.72 156.00h6.79M735.72 153.90h6.79M735.72 151.80h6.79M735.72 149.70h6.79M735.72 147.60h6.79M735.72 145.50h6.79M735.72 143.40h6.79M735.72 141.30h6.79M735.72 139.20h6.79M735.72 137.10h6.79M735.72 135.00h6.79M735.72 132.90h6.79M735.72 130.80h6.79M735.72 128.70h6.79" stroke="#000040" stroke-width="0.6" opacity="0.08"/>
<rect x="742.51" y="151.13" width="6.79" height="62.57" fill="#a8cbee"/>
<path d="M744.71 212.10h2.9M742.51 209.38h1.9M747.51 209.38h1.79M744.71 206.66h2.9M742.51 203.94h1.9M747.51 203.94h1.79M744.71 201.22h2.9M742.51 198.50h1.9M747.51 198.50h1.79M744.71 195.78h2.9M742.51 193.06h1.9M747.51 193.06h1.79M744.71 190.34h2.9M742.51 187.62h1.9M747.51 187.62h1.79M744.71 184.90h2.9M742.51 182.18h1.9M747.51 182.18h1.79M744.71 179.46h2.9M742.51 176.74h1.9M747.51 176.74h1.79M744.71 174.02h2.9M742.51 171.30h1.9M747.51 171.30h1.79M744.71 168.58h2.9M742.51 165.86h1.9M747.51 165.86h1.79M744.71 163.14h2.9M742.51 160.42h1.9M747.51 160.42h1.79M744.71 157.70h2.9M742.51 154.98h1.9M747.51 154.98h1.79M744.71 152.26h2.9" stroke="#5e6670" stroke-width="1.1" opacity="0.9"/>
<rect x="758.51" y="184.21" width="6.79" height="29.49" fill="#2a2aee"/>
<path d="M758.91 184.21V213.70M760.61 184.21V213.70M762.81 184.21V213.70" stroke="#000040" stroke-width="0.9" opacity="0.20"/>
<path d="M758.51 212.70h6.79M758.51 210.60h6.79M758.51 208.50h6.79M758.51 206.40h6.79M758.51 204.30h6.79M758.51 202.20h6.79M758.51 200.10h6.79M758.51 198.00h6.79M758.51 195.90h6.79M758.51 193.80h6.79M758.51 191.70h6.79M758.51 189.60h6.79M758.51 187.50h6.79M758.51 185.40h6.79" stroke="#000040" stroke-width="0.6" opacity="0.08"/>
<rect x="765.30" y="160.55" width="6.79" height="53.15" fill="#a8cbee"/>
<path d="M767.50 212.10h2.9M765.30 209.38h1.9M770.30 209.38h1.79M767.50 206.66h2.9M765.30 203.94h1.9M770.30 203.94h1.79M767.50 201.22h2.9M765.30 198.50h1.9M770.30 198.50h1.79M767.50 195.78h2.9M765.30 193.06h1.9M770.30 193.06h1.79M767.50 190.34h2.9M765.30 187.62h1.9M770.30 187.62h1.79M767.50 184.90h2.9M765.30 182.18h1.9M770.30 182.18h1.79M767.50 179.46h2.9M765.30 176.74h1.9M770.30 176.74h1.79M767.50 174.02h2.9M765.30 171.30h1.9M770.30 171.30h1.79M767.50 168.58h2.9M765.30 165.86h1.9M770.30 165.86h1.79M767.50 163.14h2.9" stroke="#5e6670" stroke-width="1.1" opacity="0.9"/>
<path d="M434.40 213.70H776.30" stroke="#c8c8c8" stroke-width="1"/>
<polyline points="445.80,165.71 468.59,165.26 491.38,145.53 514.18,124.90 536.97,100.68 559.76,77.36 582.56,58.07 605.35,52.69 628.14,69.91 650.94,101.58 673.73,132.97 696.52,160.78 719.32,165.71 742.11,165.26 764.90,146.43" fill="none" stroke="#8b7430" stroke-width="1.7" stroke-dasharray="2.8 5.6" stroke-dashoffset="-1.6" stroke-linecap="round"/>
<polyline points="445.80,172.53 468.59,166.34 491.38,134.76 514.18,102.47 536.97,90.63 559.76,59.42 582.56,46.23 605.35,43.45 628.14,70.81 650.94,94.40 673.73,121.76 696.52,148.67 719.32,161.49 742.11,140.50 764.90,127.32" fill="none" stroke="#ff0000" stroke-width="1.85" stroke-linejoin="miter"/>
<text transform="translate(437.13,227.60) scale(0.8987,1)" font-size="8.2" fill="#4d4d4d">Janv.</text>
<text transform="translate(437.00,237.70) scale(0.9252,1)" font-size="8.2" fill="#4d4d4d">2025</text>
<text transform="translate(461.27,227.60) scale(0.9076,1)" font-size="8.2" fill="#4d4d4d">Fév.</text>
<text transform="translate(482.76,227.60) scale(0.9103,1)" font-size="8.2" fill="#4d4d4d">Mars</text>
<text transform="translate(506.18,227.60) scale(0.9771,1)" font-size="8.2" fill="#4d4d4d">Avril</text>
<text transform="translate(530.48,227.60) scale(0.9505,1)" font-size="8.2" fill="#4d4d4d">Mai</text>
<text transform="translate(553.16,227.60) scale(0.8525,1)" font-size="8.2" fill="#4d4d4d">Juin</text>
<text transform="translate(572.45,227.60) scale(0.8800,1)" font-size="8.2" fill="#4d4d4d">Juillet</text>
<text transform="translate(596.65,227.60) scale(0.9759,1)" font-size="8.2" fill="#4d4d4d">Août</text>
<text transform="translate(618.71,227.60) scale(0.9351,1)" font-size="8.2" fill="#4d4d4d">Sept.</text>
<text transform="translate(643.18,227.60) scale(1.0084,1)" font-size="8.2" fill="#4d4d4d">Oct.</text>
<text transform="translate(664.70,227.60) scale(1.0159,1)" font-size="8.2" fill="#4d4d4d">Nov.</text>
<text transform="translate(687.92,227.60) scale(0.9649,1)" font-size="8.2" fill="#4d4d4d">Déc.</text>
<text transform="translate(710.65,227.60) scale(0.8987,1)" font-size="8.2" fill="#4d4d4d">Janv.</text>
<text transform="translate(710.52,237.70) scale(0.9252,1)" font-size="8.2" fill="#4d4d4d">2026</text>
<text transform="translate(734.79,227.60) scale(0.9076,1)" font-size="8.2" fill="#4d4d4d">Fév.</text>
<text transform="translate(733.31,237.70) scale(0.9252,1)" font-size="8.2" fill="#4d4d4d">2026</text>
<text transform="translate(756.28,227.60) scale(0.9103,1)" font-size="8.2" fill="#4d4d4d">Mars</text>
<text transform="translate(756.11,237.70) scale(0.9252,1)" font-size="8.2" fill="#4d4d4d">2026</text>
<text transform="translate(553.58,16.80) scale(0.8952,1)" font-size="8.2" fill="#4d4d4d">Station de Boulogne-sur-mer</text>
<text transform="translate(414.13,14.20) scale(0.9099,1)" font-size="8.2" fill="#4d4d4d">Précipitations</text>
<text transform="translate(423.26,23.80) scale(0.9184,1)" font-size="8.2" fill="#4d4d4d">(en mm)</text>
<text transform="translate(747.68,14.25) scale(0.9202,1)" font-size="8.2" fill="#4d4d4d">Température</text>
<text transform="translate(757.57,23.40) scale(0.8930,1)" font-size="8.2" fill="#4d4d4d">(en °C)</text>
<rect x="422.80" y="248.10" width="15.90" height="5.6" fill="#a2aee8"/>
<path d="M423.70 248.10v5.6M425.50 248.10v5.6M427.30 248.10v5.6M429.10 248.10v5.6M430.90 248.10v5.6M432.70 248.10v5.6M434.50 248.10v5.6M436.30 248.10v5.6M438.10 248.10v5.6M422.80 249.20h15.90M422.80 253.00h15.90" stroke="#59629c" stroke-width="0.8" opacity="0.4"/>
<text transform="translate(440.05,252.90) scale(0.9011,1)" font-size="8.2" fill="#4d4d4d">pluie_2025-26</text>
<rect x="498.75" y="248.10" width="15.75" height="5.6" fill="#e4f0fa"/>
<path d="M499.05 248.70h2.8M504.95 248.70h2.9M509.85 248.70h2.9M501.75 251.70h3M507.65 251.70h2.4M512.55 251.70h2.6" stroke="#5e6670" stroke-width="1.1" opacity="0.85"/>
<text transform="translate(515.04,252.90) scale(0.9208,1)" font-size="8.2" fill="#4d4d4d">pluie_normales</text>
<path d="M577.90 250.80H594.10" stroke="#ff0000" stroke-width="2"/>
<text transform="translate(595.70,252.90) scale(0.9096,1)" font-size="8.2" fill="#4d4d4d">températures_2025-26</text>
<path d="M684.20 250.80h5M692.30 250.80h5" stroke="#8b7430" stroke-width="2"/>
<text transform="translate(702.20,252.90) scale(0.9135,1)" font-size="8.2" fill="#4d4d4d">températures_normales</text>
</svg>
</body></html>
